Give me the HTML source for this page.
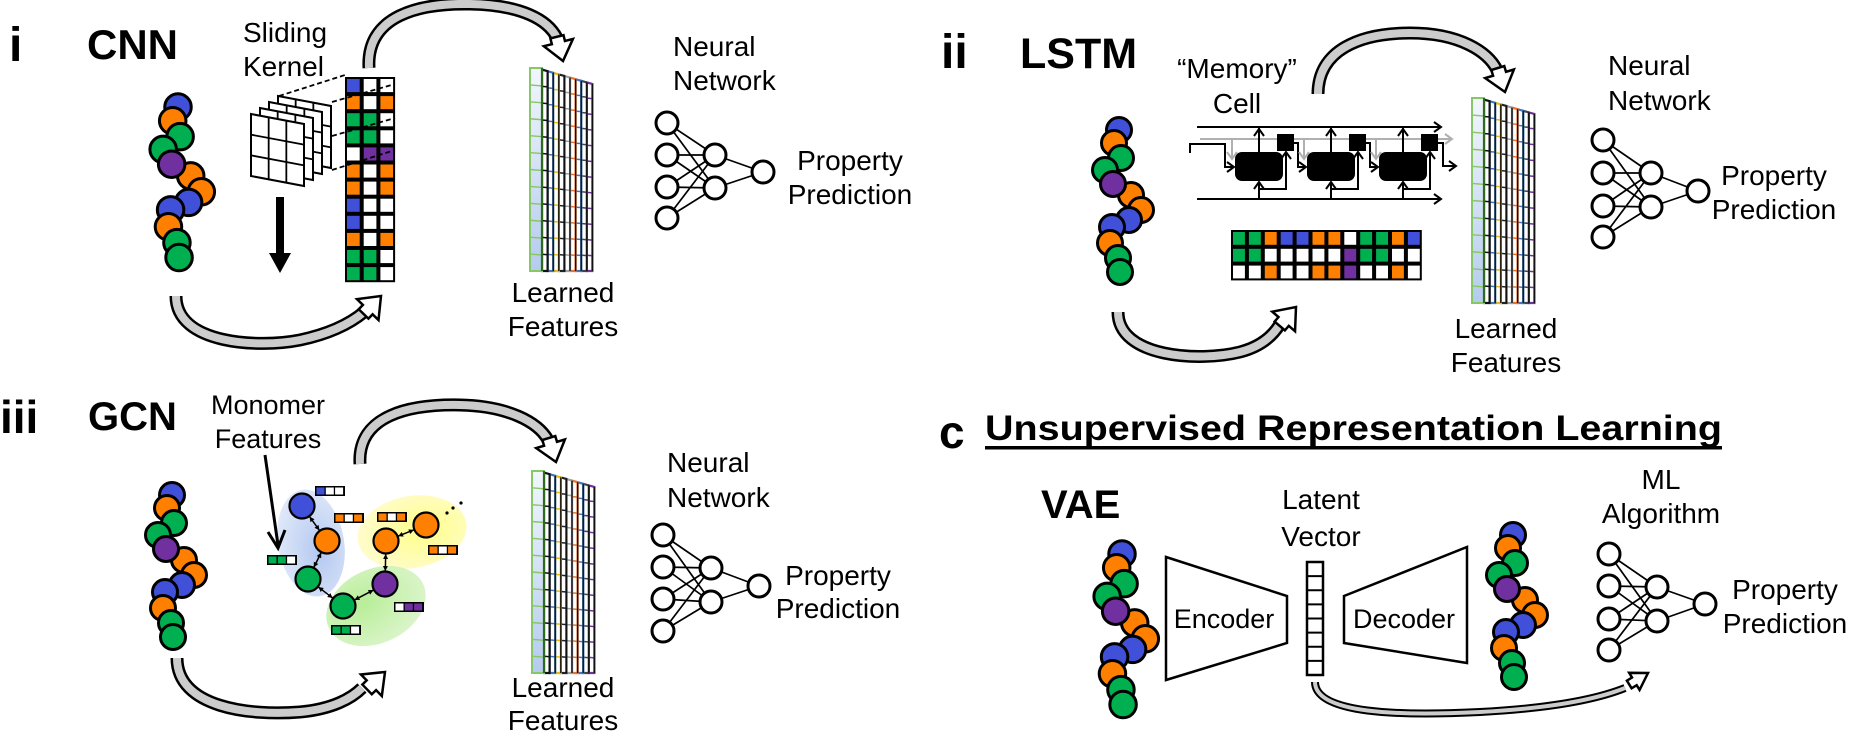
<!DOCTYPE html>
<html><head><meta charset="utf-8"><style>
html,body{margin:0;padding:0;background:#fff;}
svg{display:block;}
text{font-family:"Liberation Sans",Arial,sans-serif;fill:#000;}
.b{font-weight:bold;}
</style></head><body>
<svg id="s" xmlns="http://www.w3.org/2000/svg" width="1850" height="734" viewBox="0 0 1850 734">
<defs>
<linearGradient id="lf" x1="0" y1="0" x2="0" y2="1"><stop offset="0" stop-color="#f2f6fd"/><stop offset="1" stop-color="#b5cbee"/></linearGradient>
<radialGradient id="gb" cx="0.6" cy="0.6" r="0.7"><stop offset="0" stop-color="#b4c8f0"/><stop offset="1" stop-color="#e4ecfa"/></radialGradient>
<radialGradient id="gy" cx="0.6" cy="0.5" r="0.7"><stop offset="0" stop-color="#ffff88"/><stop offset="1" stop-color="#fffbd8"/></radialGradient>
<radialGradient id="gg" cx="0.4" cy="0.4" r="0.7"><stop offset="0" stop-color="#b8ee98"/><stop offset="1" stop-color="#dff5cf"/></radialGradient>
</defs>
<g id="layer"></g>
<text class="b" x="9" y="61" font-size="48">i</text>
<text class="b" x="87" y="59" font-size="42">CNN</text>
<text x="243" y="42" font-size="28">Sliding</text>
<text x="243" y="76" font-size="28">Kernel</text>
<text x="673" y="56" font-size="28">Neural</text>
<text x="673" y="90" font-size="28">Network</text>
<text x="850" y="170" font-size="28" text-anchor="middle">Property</text>
<text x="850" y="204" font-size="28" text-anchor="middle">Prediction</text>
<text x="563" y="302" font-size="28" text-anchor="middle">Learned</text>
<text x="563" y="336" font-size="28" text-anchor="middle">Features</text>

<text class="b" x="941" y="68" font-size="48">ii</text>
<text class="b" x="1020" y="68" font-size="43">LSTM</text>
<text x="1237" y="78" font-size="28" text-anchor="middle">“Memory”</text>
<text x="1237" y="113" font-size="28" text-anchor="middle">Cell</text>
<text x="1608" y="75" font-size="28">Neural</text>
<text x="1608" y="110" font-size="28">Network</text>
<text x="1774" y="185" font-size="28" text-anchor="middle">Property</text>
<text x="1774" y="219" font-size="28" text-anchor="middle">Prediction</text>
<text x="1506" y="338" font-size="28" text-anchor="middle">Learned</text>
<text x="1506" y="372" font-size="28" text-anchor="middle">Features</text>

<text class="b" x="0" y="433" font-size="46">iii</text>
<text class="b" x="88" y="430" font-size="40">GCN</text>
<text x="268" y="414" font-size="27" text-anchor="middle">Monomer</text>
<text x="268" y="448" font-size="27" text-anchor="middle">Features</text>
<text x="667" y="472" font-size="28">Neural</text>
<text x="667" y="507" font-size="28">Network</text>
<text x="838" y="585" font-size="28" text-anchor="middle">Property</text>
<text x="838" y="618" font-size="28" text-anchor="middle">Prediction</text>
<text x="563" y="697" font-size="28" text-anchor="middle">Learned</text>
<text x="563" y="730" font-size="28" text-anchor="middle">Features</text>

<text class="b" x="939" y="448" font-size="46">c</text>
<text class="b" x="985" y="440" font-size="35" textLength="737" lengthAdjust="spacingAndGlyphs">Unsupervised Representation Learning</text>
<rect x="985" y="446" width="737" height="3.5" fill="#000"/>
<text class="b" x="1041" y="518" font-size="40">VAE</text>
<text x="1321" y="509" font-size="28" text-anchor="middle">Latent</text>
<text x="1321" y="546" font-size="28" text-anchor="middle">Vector</text>
<text x="1224" y="628" font-size="27" text-anchor="middle">Encoder</text>
<text x="1404" y="628" font-size="27" text-anchor="middle">Decoder</text>
<text x="1661" y="489" font-size="28" text-anchor="middle">ML</text>
<text x="1661" y="523" font-size="28" text-anchor="middle">Algorithm</text>
<text x="1785" y="599" font-size="28" text-anchor="middle">Property</text>
<text x="1785" y="633" font-size="28" text-anchor="middle">Prediction</text>
</svg>
<script>
const NS='http://www.w3.org/2000/svg';
const L=document.getElementById('layer');
function el(t,a,p){const e=document.createElementNS(NS,t);for(const k in a)e.setAttribute(k,a[k]);(p||L).appendChild(e);return e;}
const C={B:'#4150d8',O:'#ff8000',G:'#00b050',P:'#7030a0',W:'#ffffff'};
const chain=[[0,0,'B'],[-5,13,'O'],[2,28,'G'],[-14,40,'G'],[12,65,'O'],[-6,54,'P'],[22,80,'O'],[10,90,'B'],[-7,97,'B'],[-9,113,'O'],[-1,128,'G'],[1,142,'G']];
function chainAt(x,y,s){s=s||1;for(const c of chain)el('circle',{cx:x+c[0]*s,cy:y+c[1]*s,r:12.5*s,fill:C[c[2]],stroke:'#000','stroke-width':3});}
chainAt(178,107,1.06);chainAt(1119,130,1);chainAt(172,495,1);chainAt(1122,554,1.06);chainAt(1513,535,1);
function matrix(x,y,cw,ch,grid){
  const R=grid.length,Cn=grid[0].length;
  el('rect',{x:x,y:y,width:cw*Cn,height:ch*R,fill:'#000'});
  for(let r=0;r<R;r++)for(let c=0;c<Cn;c++)el('rect',{x:x+c*cw+2,y:y+r*ch+2,width:cw-4,height:ch-4,fill:C[grid[r][c]]});
}
matrix(345,77,16.7,17.1,['BWW','OWO','GGW','GGW','WPP','OWO','OWO','BWW','BWW','OWO','GGW','GGW']);
const cols=['GGW','GGW','OWO','BWW','BWW','OWO','OWO','WPP','GGW','GGW','OWO','BWW'];
const rows=[0,1,2].map(r=>cols.map(c=>c[r]).join(''));
matrix(1231,230,15.9,16.8,rows);
function pgrid(tl,tr,bl){
  const p=(u,v)=>[tl[0]+u*(tr[0]-tl[0])+v*(bl[0]-tl[0]),tl[1]+u*(tr[1]-tl[1])+v*(bl[1]-tl[1])];
  const q=[p(0,0),p(1,0),p(1,1),p(0,1)];
  el('polygon',{points:q.map(a=>a.join(',')).join(' '),fill:'#fff',stroke:'#000','stroke-width':2});
  for(let i=1;i<3;i++){let a=p(i/3,0),b=p(i/3,1);el('line',{x1:a[0],y1:a[1],x2:b[0],y2:b[1],stroke:'#000','stroke-width':1.8});
    a=p(0,i/3);b=p(1,i/3);el('line',{x1:a[0],y1:a[1],x2:b[0],y2:b[1],stroke:'#000','stroke-width':1.8});}
}
for(let k=3;k>=0;k--){const dx=9*k,dy=-6*k;pgrid([251+dx,114+dy],[304+dx,124+dy],[251+dx,176+dy]);}
[[279,96,345,75],[332,102,395,84],[332,136,395,118],[332,170,395,150]].forEach(d=>el('line',{x1:d[0],y1:d[1],x2:d[2],y2:d[3],stroke:'#000','stroke-width':1.8,'stroke-dasharray':'5,3'}));
el('rect',{x:276,y:197,width:8,height:58,fill:'#000'});
el('polygon',{points:'269,253 291,253 280,273',fill:'#000'});
function stack(x,y,h){
  const colsC=['#111','#3a78c8','#f2b800','#222','#a0a0a0','#f07020','#3a78c8','#444','#7030a0'];
  const n=12,ch=h/n;
  for(let k=colsC.length;k>=1;k--){
    const sx=x+12+(k-1)*5.6,ty=y+k*1.6;
    el('polygon',{points:`${sx},${ty} ${sx+5.6},${ty+1.6} ${sx+5.6},${y+h} ${sx},${y+h}`,fill:'#fff',stroke:colsC[k-1],'stroke-width':2.2});
    for(let r=1;r<n;r++){const yy=ty+(y+h-ty)*r/n;el('line',{x1:sx,y1:yy,x2:sx+5.6,y2:yy+0.5,stroke:colsC[k-1],'stroke-width':1.5});}
    el('line',{x1:sx+5.6,y1:ty+1.6,x2:sx+5.6,y2:y+h,stroke:'#111','stroke-width':1.4});
  }
  el('rect',{x:x,y:y,width:12,height:h,fill:'url(#lf)',stroke:'#86c766','stroke-width':2});
  for(let r=1;r<n;r++)el('line',{x1:x,y1:y+ch*r,x2:x+12,y2:y+ch*r+1,stroke:'#86c766','stroke-width':1.4});
  el('line',{x1:x+12,y1:y,x2:x+12,y2:y+h,stroke:'#2e6b1e','stroke-width':2.2});
}
stack(530,68,203);stack(1472,98,205);stack(532,471,202);
function nn(ins,hid,out){
  for(const a of ins)for(const b of hid)el('line',{x1:a[0],y1:a[1],x2:b[0],y2:b[1],stroke:'#000','stroke-width':1.7});
  for(const b of hid)el('line',{x1:b[0],y1:b[1],x2:out[0],y2:out[1],stroke:'#000','stroke-width':1.7});
  for(const a of ins.concat(hid,[out]))el('circle',{cx:a[0],cy:a[1],r:11,fill:'#fff',stroke:'#000','stroke-width':3});
}
nn([[667,123],[667,155],[667,187],[667,218]],[[715,155],[715,188]],[763,172]);
nn([[1603,140],[1603,173],[1603,206],[1603,237]],[[1651,173],[1651,207]],[1698,191]);
nn([[663,535],[663,567],[663,599],[663,631]],[[711,568],[711,602]],[759,586]);
nn([[1609,554],[1609,586],[1609,619],[1609,650]],[[1657,587],[1657,621]],[1705,604]);
function arrow(d,ax,ay,dx,dy,w1,w2,L,W){
  el('path',{d:d,fill:'none',stroke:'#000','stroke-width':w1});
  el('path',{d:d,fill:'none',stroke:'#cccccc','stroke-width':w2});
  const n=Math.hypot(dx,dy);dx/=n;dy/=n;const bx=ax-L*dx,by=ay-L*dy,px=-dy,py=dx;
  const bw=W*0.45;
  const pts=[[ax,ay],[bx+W*px,by+W*py],[bx+bw*px,by+bw*py],[bx+bw*px-6*dx,by+bw*py-6*dy],[bx-bw*px-6*dx,by-bw*py-6*dy],[bx-bw*px,by-bw*py],[bx-W*px,by-W*py]];
  el('polygon',{points:pts.map(p=>p.join(',')).join(' '),fill:'#fff',stroke:'#000','stroke-width':2.5,'stroke-linejoin':'miter'});
}
arrow('M369,68 C366,15 420,3 470,4 C522,5 548,20 557,38',563,61,0.25,1,13,8,19,15);
arrow('M176,296 C176,345 260,348 300,340 C333,333 352,322 364,312',381,296,0.7,-0.72,13,8,19,15);
arrow('M1318,94 C1318,50 1360,33 1410,33 C1460,33 1488,52 1497,70',1505,92,0.3,1,13,8,19,15);
arrow('M1118,312 C1118,358 1200,362 1240,352 C1263,346 1274,334 1280,324',1296,307,0.65,-0.76,13,8,19,15);
arrow('M360,464 C357,415 410,404 460,405 C508,406 538,422 548,440',556,462,0.3,1,13,8,19,15);
arrow('M177,658 C177,708 250,716 300,712 C333,709 352,698 362,688',385,672,0.72,-0.7,13,8,19,15);
arrow('M1315,682 C1315,714 1400,716 1480,712 C1555,708 1600,698 1625,688',1648,673,0.85,-0.52,8,4,16,10);
const bk={stroke:'#000','stroke-width':2,fill:'none'};
function ah(x,y,dir,col){col=col||'#000';let p;
  if(dir=='r')p=`${x-7},${y-5} ${x},${y} ${x-7},${y+5}`;
  else if(dir=='u')p=`${x-5},${y+7} ${x},${y} ${x+5},${y+7}`;
  else p=`${x-5},${y-7} ${x},${y} ${x+5},${y-7}`;
  el('polyline',{points:p,stroke:col,'stroke-width':2,fill:'none'});}
el('line',Object.assign({x1:1197,y1:127,x2:1441,y2:127},bk));ah(1441,127,'r');
el('line',{x1:1200,y1:139,x2:1452,y2:139,stroke:'#b0b0b0','stroke-width':2});ah(1452,139,'r','#b0b0b0');
el('line',Object.assign({x1:1197,y1:199,x2:1441,y2:199},bk));ah(1441,199,'r');
el('polyline',Object.assign({points:'1190,153 1190,144 1225,144 1225,167 1234,167'},bk));ah(1234,167,'r');
for(let i=0;i<3;i++){const cx=1259+72*i;
  el('line',{x1:cx-27,y1:139,x2:cx-27,y2:158,stroke:'#b0b0b0','stroke-width':2});ah(cx-27,159,'d','#b0b0b0');
  el('rect',{x:cx-24,y:152,width:48,height:29,rx:7,fill:'#000'});
  el('line',Object.assign({x1:cx,y1:199,x2:cx,y2:182},bk));ah(cx,182,'u');
  el('line',Object.assign({x1:cx,y1:152,x2:cx,y2:128},bk));ah(cx,129,'u');
  el('polyline',Object.assign({points:`${cx},189 ${cx+27},189 ${cx+27},152`},bk));ah(cx+27,152,'u');
  el('rect',{x:cx+18,y:134,width:17,height:17,fill:'#000'});
  if(i<2){el('polyline',Object.assign({points:`${cx+35},143 ${cx+39},143 ${cx+39},167 ${cx+47},167`},bk));ah(cx+47,167,'r');}
  else{el('polyline',Object.assign({points:`${cx+35},143 ${cx+40},143 ${cx+40},166 ${cx+52},166`},bk));ah(cx+53,166,'r');}
}
el('ellipse',{cx:311,cy:543,rx:33,ry:54,transform:'rotate(-10 311 543)',fill:'url(#gb)'});
el('ellipse',{cx:412,cy:532,rx:55,ry:36,transform:'rotate(-10 412 532)',fill:'url(#gy)'});
el('ellipse',{cx:376,cy:606,rx:52,ry:37,transform:'rotate(-25 376 606)',fill:'url(#gg)'});
const N=[[302,506,'B'],[327,541,'O'],[308,579,'G'],[343,606,'G'],[385,584,'P'],[386,541,'O'],[426,525,'O']];
for(let i=0;i<N.length-1;i++){const a=N[i],b=N[i+1];
  const dx=b[0]-a[0],dy=b[1]-a[1],n=Math.hypot(dx,dy),ux=dx/n,uy=dy/n;
  const x1=a[0]+ux*13,y1=a[1]+uy*13,x2=b[0]-ux*13,y2=b[1]-uy*13;
  el('line',{x1:x1,y1:y1,x2:x2,y2:y2,stroke:'#000','stroke-width':1.5});
  for(const [px,py,s] of [[x1,y1,1],[x2,y2,-1]])el('polygon',{points:`${px},${py} ${px+s*ux*5-uy*2.5},${py+s*uy*5+ux*2.5} ${px+s*ux*5+uy*2.5},${py+s*uy*5-ux*2.5}`,fill:'#000'});
}
for(const a of N)el('circle',{cx:a[0],cy:a[1],r:12.5,fill:C[a[2]],stroke:'#000','stroke-width':2.2});
function fb(x,y,s){el('rect',{x:x,y:y,width:30,height:10,fill:'#000'});for(let i=0;i<3;i++)el('rect',{x:x+1.5+i*9.3,y:y+1.5,width:8,height:7,fill:C[s[i]]});}
fb(315,486,'BWW');fb(334,513,'OWO');fb(267,555,'GGW');fb(377,512,'OWO');fb(428,545,'OWO');fb(394,602,'WPP');fb(331,625,'GGW');
[[447,513],[453,508],[461,503]].forEach(p=>el('circle',{cx:p[0],cy:p[1],r:1.6,fill:'#000'}));
el('line',{x1:265,y1:455,x2:278,y2:545,stroke:'#000','stroke-width':3});
el('polyline',{points:'268,532 278,548 285,530',fill:'none',stroke:'#000','stroke-width':3});
el('polygon',{points:'1166,557 1287,596 1287,643 1166,680',fill:'#fff',stroke:'#000','stroke-width':2.5});
el('polygon',{points:'1344,596 1467,547 1467,663 1344,643',fill:'#fff',stroke:'#000','stroke-width':2.5});
el('rect',{x:1307,y:562,width:16,height:113,fill:'#fff',stroke:'#000','stroke-width':2.5});
for(let i=1;i<8;i++)el('line',{x1:1307,y1:562+i*113/8,x2:1323,y2:562+i*113/8,stroke:'#000','stroke-width':2});
</script>
</body></html>
